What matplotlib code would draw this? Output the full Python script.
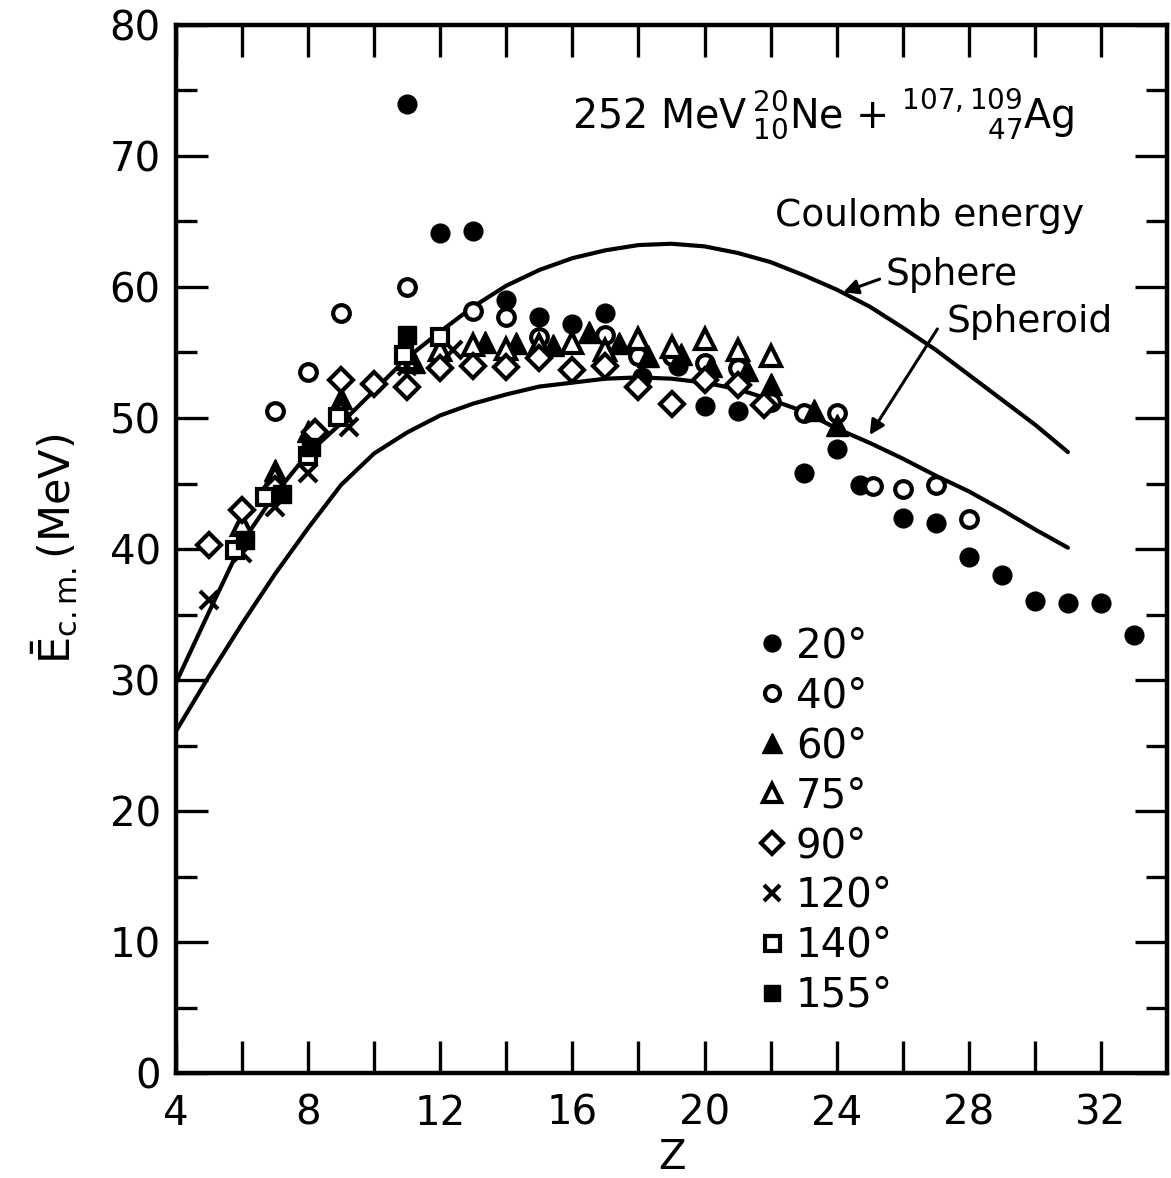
import matplotlib
matplotlib.use("Agg")
import matplotlib.pyplot as plt
from matplotlib.lines import Line2D

plt.rcParams['font.family'] = ['DejaVu Sans']
plt.rcParams['mathtext.fontset'] = 'dejavusans'

# ---------------- data ----------------
z20 = [11, 12, 13, 14, 15, 16, 17, 18.1, 19.2, 20, 21, 23, 24, 24.7, 26, 27, 28, 29, 30, 31, 32, 33]
e20 = [74.0, 64.1, 64.3, 59.0, 57.7, 57.2, 58.0, 53.1, 54.0, 50.9, 50.5, 45.8, 47.6, 44.9, 42.4, 42.0, 39.4, 38.0, 36.0, 35.9, 35.9, 33.4]

z40 = [7, 8, 9, 11, 13, 14, 15, 17, 18, 19, 20, 21, 22, 23, 24, 25.1, 26, 27, 28]
e40 = [50.5, 53.5, 58.0, 60.0, 58.2, 57.7, 56.2, 56.3, 54.7, 54.7, 54.2, 53.8, 51.2, 50.4, 50.4, 44.8, 44.6, 44.9, 42.3]

z60 = [7, 8, 9, 11.2, 13.35, 14.3, 15.4, 16.5, 17.4, 18.3, 19.3, 20.2, 21.3, 22, 23.3, 24]
e60 = [46.0, 49.0, 51.5, 54.3, 55.8, 55.7, 55.6, 56.6, 55.7, 54.7, 54.9, 54.0, 53.7, 52.6, 50.6, 49.5]

z75 = [6, 7, 9, 11, 12, 13, 14, 15, 16, 17, 18, 19, 20, 21, 22]
e75 = [41.8, 45.5, 50.5, 54.5, 55.2, 55.6, 55.3, 55.6, 55.7, 55.2, 56.0, 55.4, 56.0, 55.2, 54.7]

z90 = [5, 6, 7, 8.2, 9, 10, 11, 12, 13, 14, 15, 16, 17, 18, 19, 20, 21, 21.8]
e90 = [40.3, 43.0, 44.6, 48.9, 52.9, 52.6, 52.4, 53.8, 54.0, 53.9, 54.6, 53.7, 54.0, 52.4, 51.1, 52.9, 52.5, 51.0]

z120 = [5, 6, 7, 8, 9.25, 11, 12.4]
e120 = [36.1, 39.7, 43.2, 45.8, 49.3, 54.0, 55.2]

z140 = [5.8, 6.7, 8, 8.9, 10.9, 12]
e140 = [39.9, 44.0, 47.1, 50.1, 54.8, 56.2]

z155 = [6.1, 7.2, 8.1, 11]
e155 = [40.7, 44.2, 47.8, 56.3]

sphere_z = [4, 5, 6, 7, 8, 9, 10, 11, 12, 13, 14, 15, 16, 17, 18, 19, 20, 21, 22, 23, 24, 25, 26, 27, 28, 29, 30, 31]
sphere_e = [29.8, 35.2, 40.5, 44.2, 47.3, 49.6, 52.1, 54.6, 56.6, 58.5, 60.1, 61.3, 62.2, 62.8, 63.2, 63.3, 63.1, 62.6, 61.9, 60.9, 59.8, 58.5, 56.9, 55.2, 53.3, 51.4, 49.5, 47.4]

spheroid_z = [4, 5, 6, 7, 8, 9, 10, 11, 12, 13, 14, 15, 16, 17, 18, 19, 20, 21, 22, 23, 24, 25, 26, 27, 28, 29, 30, 31]
spheroid_e = [26.1, 30.3, 34.3, 38.1, 41.6, 44.9, 47.3, 48.9, 50.2, 51.1, 51.8, 52.4, 52.7, 53.0, 53.1, 53.0, 52.7, 52.2, 51.4, 50.5, 49.2, 48.1, 46.9, 45.6, 44.4, 43.0, 41.5, 40.1]

labels = ["20°", "40°", "60°", "75°", "90°", "120°", "140°", "155°"]
xticks_major = [4, 8, 12, 16, 20, 24, 28, 32]
yticks_major = [0, 10, 20, 30, 40, 50, 60, 70, 80]

# ---------------- figure ----------------
fig = plt.figure(figsize=(11.71, 11.78), dpi=100)
ax = fig.add_axes([0.1503, 0.0891, 0.8463, 0.8897])

ax.plot(sphere_z, sphere_e, color='k', lw=3.0, solid_capstyle='round', zorder=2)
ax.plot(spheroid_z, spheroid_e, color='k', lw=3.0, solid_capstyle='round', zorder=2)

styles = [
    dict(marker='o', ms=13.5, mfc='k', mec='k', mew=1),
    dict(marker='o', ms=12, mfc='white', mec='k', mew=3.0),
    dict(marker='^', ms=16, mfc='k', mec='k', mew=1),
    dict(marker='^', ms=15, mfc='white', mec='k', mew=3.0),
    dict(marker='D', ms=12, mfc='white', mec='k', mew=3.0),
    dict(marker='x', ms=13.5, mfc='none', mec='k', mew=3.0),
    dict(marker='s', ms=12, mfc='white', mec='k', mew=3.0),
    dict(marker='s', ms=12.5, mfc='k', mec='k', mew=1),
]
series = [(z20, e20), (z40, e40), (z60, e60), (z75, e75), (z90, e90),
          (z120, e120), (z140, e140), (z155, e155)]
for (zz, ee), st in zip(series, styles):
    ax.plot(zz, ee, ls='none', zorder=3, **st)

ax.set_xlim(4, 34)
ax.set_ylim(0, 80)
ax.set_xticks(xticks_major)
ax.set_xticks([6, 10, 14, 18, 22, 26, 30], minor=True)
ax.set_yticks(yticks_major)
ax.set_yticks([5, 15, 25, 35, 45, 55, 65, 75], minor=True)
ax.tick_params(which='both', direction='in', top=True, right=True, width=2.4, colors='k')
ax.tick_params(axis='x', which='both', length=23, pad=15, labelsize=29)
ax.tick_params(axis='y', which='major', length=23, pad=11, labelsize=29)
ax.tick_params(axis='y', which='minor', length=15)
for sp in ax.spines.values():
    sp.set_linewidth(3.2)

ax.set_xlabel("Z", fontsize=29, labelpad=3)
ax.set_ylabel(r"$\bar{\mathrm{E}}_{\mathrm{c.m.}}$(MeV)", fontsize=31, labelpad=22)

ax.text(0.40, 0.902, r"252 MeV$\,^{20}_{10}$Ne + $^{107,109}_{\qquad\quad\,47}$Ag",
        transform=ax.transAxes, fontsize=28.5, va='baseline', ha='left')
ax.text(0.604, 0.808, "Coulomb energy", transform=ax.transAxes, fontsize=27,
        va='baseline', ha='left')
ax.text(0.716, 0.752, "Sphere", transform=ax.transAxes, fontsize=27,
        va='baseline', ha='left')
ax.text(0.777, 0.707, "Spheroid", transform=ax.transAxes, fontsize=27,
        va='baseline', ha='left')

ax.annotate("", xy=(24.2, 59.6), xytext=(25.3, 60.6),
            arrowprops=dict(arrowstyle='-|>', lw=2.2, color='k', mutation_scale=22,
                            shrinkA=0, shrinkB=0))
ax.annotate("", xy=(25.0, 48.7), xytext=(27.05, 56.8),
            arrowprops=dict(arrowstyle='-|>', lw=2.2, color='k', mutation_scale=22,
                            shrinkA=0, shrinkB=0))

handles = []
for st in styles:
    s = dict(st)
    s['ms'] = s['ms'] * 0.9
    handles.append(Line2D([], [], ls='none', **s))
ax.legend(handles, labels, loc='upper left', bbox_to_anchor=(0.589, 0.426),
          frameon=False, fontsize=29, handlelength=0.6, handletextpad=0.3,
          labelspacing=0.245, borderaxespad=0, borderpad=0)

fig.savefig("out.png", dpi=100)
